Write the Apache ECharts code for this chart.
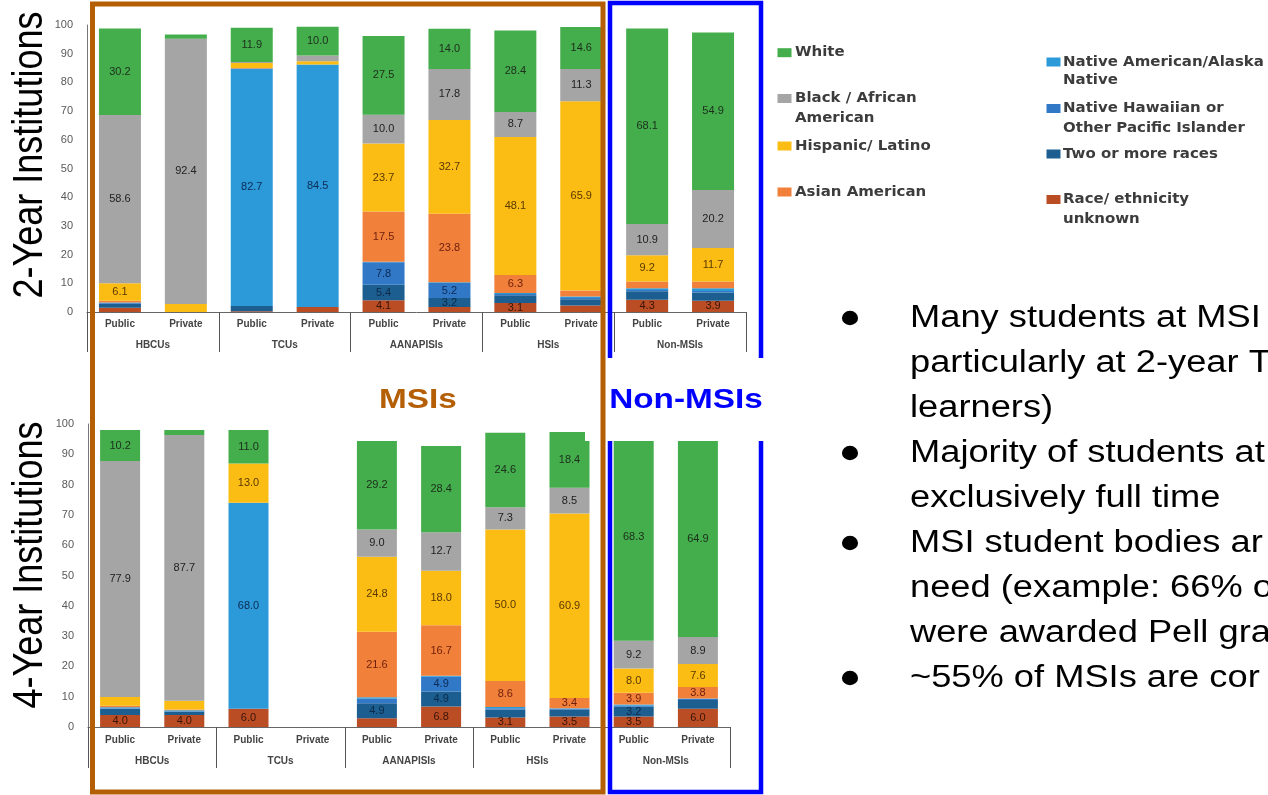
<!DOCTYPE html>
<html><head><meta charset="utf-8">
<script src="https://cdn.jsdelivr.net/npm/echarts@6/dist/echarts.min.js"></script>
<style>html,body{margin:0;padding:0;background:#fff}#c{width:1268px;height:795px}</style>
</head><body><div id="c"></div>
<script>
// ---------- DATA ----------
const categories = ['Public','Private','Public','Private','Public','Private','Public','Private','Public','Private'];
const groups = ['HBCUs','TCUs','AANAPISIs','HSIs','Non-MSIs'];
const raceNames = ['Race/ ethnicity unknown','Two or more races','Native Hawaiian or Other Pacific Islander','Native American/Alaska Native','Asian American','Hispanic/ Latino','Black / African American','White'];
const raceColors = ['#bb4d24','#1b5e8f','#3178c6','#2c9ad8','#f0803a','#fbbd14','#a5a5a5','#44ad4c'];
const labelColors = ['#3a1408','#0d2a4a','#0d2a55','#0d2a55','#6e1e0c','#5a3800','#222222','#1c2e1c'];
const yMin = 0, yMax = 100, yStep = 10;

// 2-Year institutions (order: HBCU Pub, HBCU Priv, TCU Pub, TCU Priv, AANAPISI Pub, AANAPISI Priv, HSI Pub, HSI Priv, Non-MSI Pub, Non-MSI Priv)
const twoUnknown  = [1.5, 0,    0.3,  1.7,  4.1,  1.7,  3.1,  2.3,  4.3,  3.9];
const twoTwoMore  = [1.4, 0,    1.8,  0,    5.4,  3.2,  2.7,  2.1,  2.9,  2.9];
const twoNHPI     = [0.2, 0,    0,    0,    7.8,  5.2,  0.5,  0.5,  0.5,  0.5];
const twoNatAm    = [0.2, 0,    82.7, 84.5, 0.2,  0.3,  0.3,  0.5,  0.6,  1.0];
const twoAsian    = [0.6, 0,    0.2,  0,    17.5, 23.8, 6.3,  2.1,  2.3,  2.3];
const twoHispanic = [6.1, 2.8,  1.8,  1.2,  23.7, 32.7, 48.1, 65.9, 9.2,  11.7];
const twoBlack    = [58.6,92.4, 0.3,  2.0,  10.0, 17.8, 8.7,  11.3, 10.9, 20.2];
const twoWhite    = [30.2,1.5,  11.9, 10.0, 27.5, 14.0, 28.4, 14.6, 68.1, 54.9];

// 4-Year institutions
const fourUnknown  = [4.0, 4.0, 6.0,  0, 2.9,  6.8,  3.1,  3.5,  3.5,  6.0];
const fourTwoMore  = [2.0, 1.0, 0,    0, 4.9,  4.9,  2.7,  2.2,  3.2,  2.9];
const fourNHPI     = [0.2, 0.2, 0,    0, 1.6,  4.9,  0.4,  0.3,  0.3,  0.3];
const fourNatAm    = [0.3, 0.3, 68.0, 0, 0.4,  0.3,  0.4,  0.2,  0.4,  0.2];
const fourAsian    = [0.5, 0.3, 0,    0, 21.6, 16.7, 8.6,  3.4,  3.9,  3.8];
const fourHispanic = [2.9, 2.9, 13.0, 0, 24.8, 18.0, 50.0, 60.9, 8.0,  7.6];
const fourBlack    = [77.9,87.7,0,    0, 9.0,  12.7, 7.3,  8.5,  9.2,  8.9];
const fourWhite    = [10.2,1.6, 11.0, 0, 29.2, 28.4, 24.6, 18.4, 68.3, 64.9];

const legendCol1 = [['White'],['Black / African','American'],['Hispanic/ Latino'],['Asian American']];
const legendCol2 = [['Native American/Alaska','Native'],['Native Hawaiian or','Other Pacific Islander'],['Two or more races'],['Race/ ethnicity','unknown']];
const bulletLines = ['Many students at MSI','particularly at 2-year T','learners)','Majority of students at','exclusively full time','MSI student bodies ar','need (example: 66% o','were awarded Pell gra','~55% of MSIs are cor'];
const bulletStarts = [0,3,5,8];

// ---------- BUILD ----------
const twoYear = [twoUnknown,twoTwoMore,twoNHPI,twoNatAm,twoAsian,twoHispanic,twoBlack,twoWhite];
const fourYear = [fourUnknown,fourTwoMore,fourNHPI,fourNatAm,fourAsian,fourHispanic,fourBlack,fourWhite];
const FONT = '"Liberation Sans", Arial, sans-serif';

function makeSeries(arrs, g){
  return raceNames.map((n,i)=>({
    type:'bar', name:n, stack:'s'+g, xAxisIndex:g*2, yAxisIndex:g,
    barWidth: g ? 40 : 42, data: arrs[i],
    itemStyle:{color:raceColors[i]},
    label:{show:true, position:'inside', fontSize:11, fontFamily:FONT, color:labelColors[i],
      formatter: p => p.value >= 3 ? p.value.toFixed(1) : ''}
  }));
}
function xAxes(g, margin1, margin2, tickLen){
  return [
    {type:'category', gridIndex:g, data:categories, position:'bottom',
     axisLine:{show:true, lineStyle:{color:'#666', width:1}}, axisTick:{show:false},
     axisLabel:{margin:margin1, fontSize:10, fontWeight:'bold', color:'#444', fontFamily:FONT, interval:0},
     splitLine:{show:false}},
    {type:'category', gridIndex:g, data:groups, position:'bottom',
     axisLine:{show:false}, axisTick:{show:true, length:tickLen, lineStyle:{color:'#555', width:1}},
     axisLabel:{margin:margin2, fontSize:10, fontWeight:'bold', color:'#444', fontFamily:FONT, interval:0},
     splitLine:{show:false}}
  ];
}
function yAxis(g){
  return {type:'value', gridIndex:g, min:yMin, max:yMax, interval:yStep,
    axisLine:{show:true, lineStyle:{color:'#777'}}, axisTick:{show:false}, splitLine:{show:false},
    axisLabel:{margin:14, fontSize:11, color:'#595959', fontFamily:FONT}};
}

const graphic = [];
// side titles
graphic.push({type:'text', x:30, y:155, rotation:Math.PI/2, scaleY:1.17, z:50,
  style:{text:'2-Year Institutions', font:'36px '+FONT, fill:'#000', textAlign:'center', textVerticalAlign:'middle'}});
graphic.push({type:'text', x:30, y:565, rotation:Math.PI/2, scaleY:1.17, z:50,
  style:{text:'4-Year Institutions', font:'36px '+FONT, fill:'#000', textAlign:'center', textVerticalAlign:'middle'}});
// boxes
graphic.push({type:'rect', z:100, shape:{x:610, y:3, width:151, height:789}, style:{fill:'none', stroke:'#0000ff', lineWidth:4.5}});
graphic.push({type:'rect', z:101, shape:{x:585, y:358, width:181, height:83}, style:{fill:'#fff', stroke:'none'}});
graphic.push({type:'rect', z:102, shape:{x:92.5, y:4, width:510.5, height:788}, style:{fill:'none', stroke:'#b45f06', lineWidth:5}});
graphic.push({type:'text', x:418, y:400, scaleX:1.17, z:103,
  style:{text:'MSIs', font:'bold 28.5px '+FONT, fill:'#b45f06', textAlign:'center', textVerticalAlign:'middle'}});
graphic.push({type:'text', x:686, y:400, scaleX:1.17, z:103,
  style:{text:'Non-MSIs', font:'bold 28.5px '+FONT, fill:'#0000ff', textAlign:'center', textVerticalAlign:'middle'}});
// legend
const col1Y = [[52.7],[98.5,118],[146],[192]];
const col2Y = [[62,80.5],[108.5,128],[154],[199.5,219]];
function legendCol(items, ys, colorIdx, sqX, txtX){
  items.forEach((lines,i)=>{
    graphic.push({type:'rect', z:50, shape:{x:sqX, y:ys[i][0]-4.5, width:14, height:9}, style:{fill:raceColors[colorIdx[i]]}});
    lines.forEach((t,j)=>{
      graphic.push({type:'text', x:txtX, y:ys[i][j], scaleX:1.07, z:50,
        style:{text:t, font:'bold 14px "DejaVu Sans", sans-serif', fill:'#3c3c3c', textAlign:'left', textVerticalAlign:'middle'}});
    });
  });
}
legendCol(legendCol1, col1Y, [7,6,5,4], 777.5, 795);
legendCol(legendCol2, col2Y, [3,2,1,0], 1046.5, 1063);
// bullets
bulletLines.forEach((t,i)=>{
  const y = 318 + i*45;
  if (bulletStarts.indexOf(i) >= 0) {
    graphic.push({type:'circle', x:850, y:y, scaleX:1.12, z:50, shape:{cx:0, cy:0, r:7.2}, style:{fill:'#000'}});
  }
  graphic.push({type:'text', x:910, y:y, scaleX:1.17, z:50,
    style:{text:t, font:'31px '+FONT, fill:'#000', textAlign:'left', textVerticalAlign:'middle'}});
});

const option = {
  animation:false,
  backgroundColor:'#fff',
  grid:[
    {left:87, top:25, width:659, height:287, containLabel:false},
    {left:88, top:424, width:642, height:303, containLabel:false}
  ],
  xAxis:[...xAxes(0, 7, 28, 40), ...xAxes(1, 8, 29, 41)],
  yAxis:[yAxis(0), yAxis(1)],
  series:[...makeSeries(twoYear,0), ...makeSeries(fourYear,1)],
  graphic: graphic
};
const chart = echarts.init(document.getElementById('c'), null, {renderer:'canvas'});
chart.setOption(option);
</script></body></html>
